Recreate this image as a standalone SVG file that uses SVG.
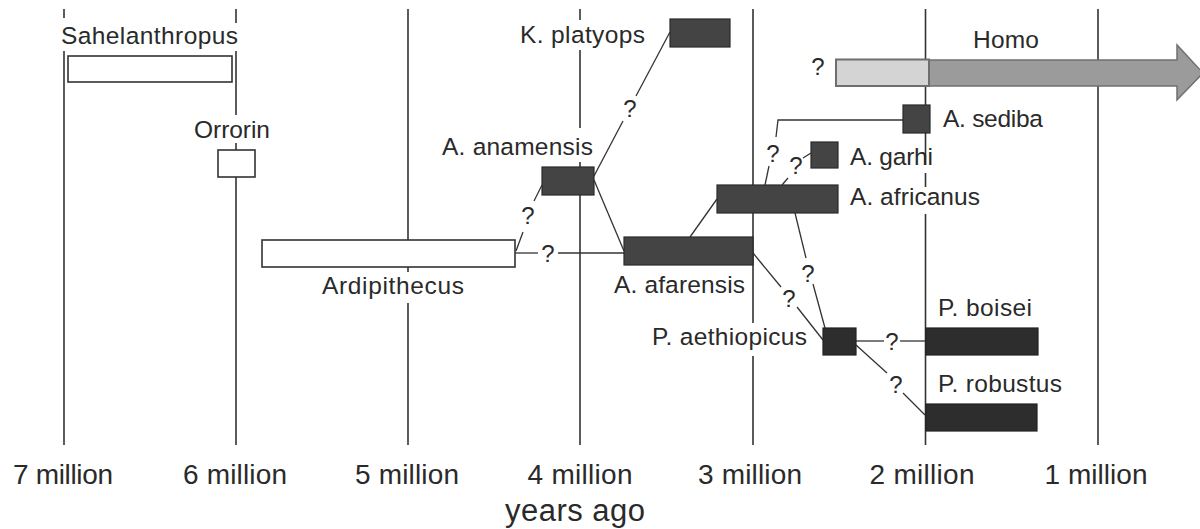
<svg xmlns="http://www.w3.org/2000/svg" width="1200" height="529" viewBox="0 0 1200 529">
<style>
.grid line{stroke:#333;stroke-width:1.6}
.con line,.con polyline{stroke:#333;stroke-width:1.3;fill:none}
.wbox{fill:#fff;stroke:#333;stroke-width:1.6}
.dbox{fill:#444;stroke:#2a2a2a;stroke-width:1.2}
.pbox{fill:#2d2d2d;stroke:#222;stroke-width:1.2}
text{font-family:"Liberation Sans",Arial,sans-serif;fill:#2a2a2a}
.lbl{font-size:24.5px}
.q{font-size:24px;text-anchor:middle}
.ax{font-size:28px;text-anchor:middle}
</style>
<rect width="1200" height="529" fill="#fff"/>
<g id="grid" class="grid">
<line x1="64" y1="9" x2="64" y2="18"/><line x1="64" y1="51" x2="64" y2="445"/>
<line x1="236" y1="9" x2="236" y2="23"/><line x1="236" y1="51" x2="236" y2="115"/><line x1="236" y1="143" x2="236" y2="445"/>
<line x1="408" y1="9" x2="408" y2="272"/><line x1="408" y1="303" x2="408" y2="445"/>
<line x1="580" y1="9" x2="580" y2="20"/><line x1="580" y1="50" x2="580" y2="128"/><line x1="580" y1="162" x2="580" y2="445"/>
<line x1="753" y1="9" x2="753" y2="323"/><line x1="753" y1="356" x2="753" y2="445"/>
<line x1="925.5" y1="9" x2="925.5" y2="165"/><line x1="925.5" y1="173" x2="925.5" y2="187"/><line x1="925.5" y1="214" x2="925.5" y2="445"/>
<line x1="1098" y1="9" x2="1098" y2="445"/>
</g>
<g id="connectors" class="con">
<line x1="594" y1="176" x2="623" y2="121"/><line x1="636" y1="96" x2="670" y2="32"/>
<line x1="516" y1="251" x2="523" y2="232"/><line x1="534" y1="201" x2="542" y2="185"/>
<line x1="515" y1="253" x2="538" y2="253"/><line x1="558" y1="253" x2="624" y2="253"/>
<line x1="594" y1="180" x2="624" y2="251"/>
<line x1="690" y1="237" x2="717" y2="199"/>
<polyline points="903,120 778,120 776,137"/><line x1="769" y1="166" x2="765" y2="185"/>
<line x1="782" y1="185" x2="788" y2="178"/><line x1="803" y1="158" x2="811" y2="153"/>
<line x1="753" y1="253" x2="781" y2="287"/><line x1="797" y1="307" x2="823" y2="340"/>
<line x1="795" y1="213" x2="806" y2="258"/><line x1="813" y1="284" x2="825" y2="328"/>
<line x1="856" y1="341" x2="884" y2="341"/><line x1="900" y1="341" x2="926" y2="341"/>
<line x1="856" y1="345" x2="887" y2="373"/><line x1="903" y1="393" x2="925" y2="415"/>
<text class="q" x="630" y="117">?</text>
<text class="q" x="528" y="224">?</text>
<text class="q" x="548" y="262">?</text>
<text class="q" x="773" y="162">?</text>
<text class="q" x="796" y="174">?</text>
<text class="q" x="789" y="307">?</text>
<text class="q" x="808" y="282">?</text>
<text class="q" x="892" y="350">?</text>
<text class="q" x="896" y="393">?</text>
<text class="q" x="818" y="75">?</text>
</g>
<g id="sahelanthropus">
<rect class="wbox" x="68" y="56" width="164" height="26"/>
<text class="lbl" x="61" y="44" textLength="177">Sahelanthropus</text>
</g>
<g id="orrorin">
<rect class="wbox" x="218" y="150" width="37" height="27"/>
<text class="lbl" x="194" y="138" textLength="76">Orrorin</text>
</g>
<g id="ardipithecus">
<rect class="wbox" x="262" y="240" width="253" height="27"/>
<text class="lbl" x="322" y="294" textLength="142">Ardipithecus</text>
</g>
<g id="k-platyops">
<rect class="dbox" x="670" y="19" width="60" height="28"/>
<text class="lbl" x="520" y="43" textLength="125">K. platyops</text>
</g>
<g id="a-anamensis">
<rect class="dbox" x="542" y="167" width="52" height="28"/>
<text class="lbl" x="442" y="155" textLength="151">A. anamensis</text>
</g>
<g id="a-afarensis">
<rect class="dbox" x="624" y="237" width="129" height="28"/>
<text class="lbl" x="614" y="293" textLength="131">A. afarensis</text>
</g>
<g id="a-africanus">
<rect class="dbox" x="717" y="185" width="121" height="28"/>
<text class="lbl" x="850" y="205" textLength="130">A. africanus</text>
</g>
<g id="a-garhi">
<rect class="dbox" x="811" y="142" width="27" height="26"/>
<text class="lbl" x="850" y="165" textLength="83">A. garhi</text>
</g>
<g id="a-sediba">
<rect class="dbox" x="903" y="105" width="27" height="28"/>
<text class="lbl" x="943" y="127" textLength="100">A. sediba</text>
</g>
<g id="p-aethiopicus">
<rect class="pbox" x="823" y="328" width="33" height="27"/>
<text class="lbl" x="652" y="345" textLength="155">P. aethiopicus</text>
</g>
<g id="p-boisei">
<rect class="pbox" x="926" y="328" width="112" height="27"/>
<text class="lbl" x="938" y="316" textLength="94">P. boisei</text>
</g>
<g id="p-robustus">
<rect class="pbox" x="926" y="404" width="111" height="27"/>
<text class="lbl" x="938" y="392" textLength="124">P. robustus</text>
</g>
<g id="homo">
<polygon points="929,60 1177,60 1177,45 1203,73 1177,100 1177,86 929,86" fill="#9b9b9b" stroke="#707070" stroke-width="1.5"/>
<rect x="836" y="59.5" width="93" height="26.5" fill="#d4d4d4" stroke="#6e6e6e" stroke-width="2"/>
<text class="lbl" x="973" y="48" textLength="66">Homo</text>
</g>
<g id="axis">
<text class="ax" x="63" y="484" textLength="100">7 million</text>
<text class="ax" x="235" y="484" textLength="104">6 million</text>
<text class="ax" x="407" y="484" textLength="104">5 million</text>
<text class="ax" x="580" y="484" textLength="105">4 million</text>
<text class="ax" x="750" y="484" textLength="104">3 million</text>
<text class="ax" x="922" y="484" textLength="105">2 million</text>
<text class="ax" x="1096" y="484" textLength="103">1 million</text>
<text class="ax" x="575" y="521" style="font-size:31px" textLength="140">years ago</text>
</g>
</svg>
